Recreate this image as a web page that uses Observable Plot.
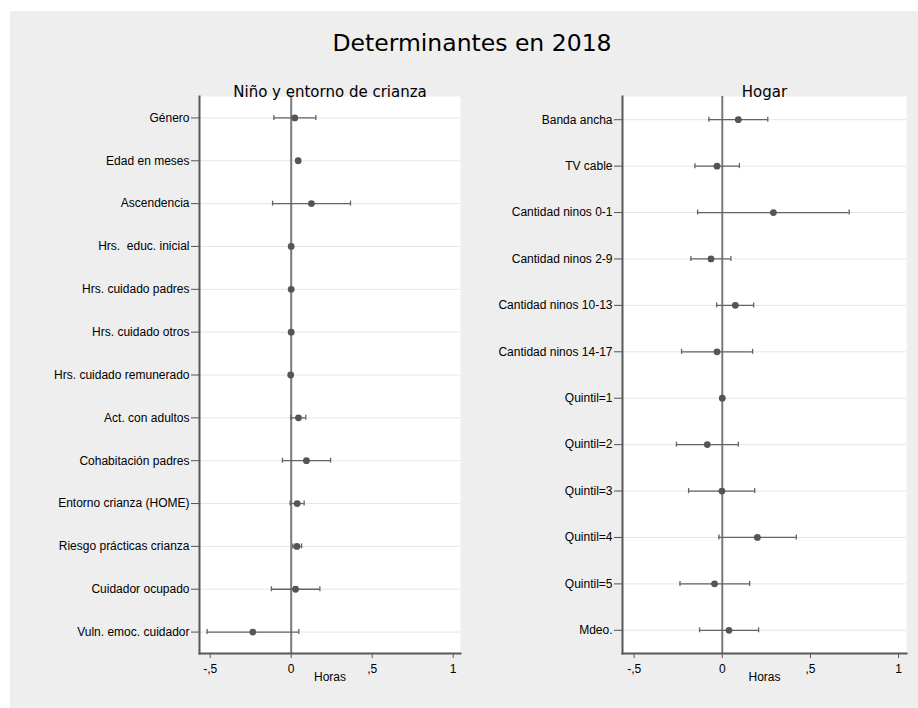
<!DOCTYPE html>
<html><head><meta charset="utf-8">
<script src="https://cdn.jsdelivr.net/npm/d3@7"></script>
<script src="https://cdn.jsdelivr.net/npm/@observablehq/plot@0.6"></script>
<style>
body{margin:0;background:#fff;}
#wrap{position:relative;width:918px;height:708px;overflow:hidden;font-family:"DejaVu Sans",sans-serif;}
#bg{position:absolute;left:10px;top:11px;right:0;bottom:0;background:#eeeeee;}
#title{position:absolute;left:0;width:944px;top:32px;text-align:center;font-size:23.5px;line-height:23.5px;color:#000;white-space:nowrap;}
.panel{position:absolute;top:0;}
svg text{white-space:pre;}
</style></head><body>
<div id="wrap"><div id="bg"></div><div id="title">Determinantes en 2018</div><div id="p1" class="panel" style="left:0"></div><div id="p2" class="panel" style="left:470px"></div></div>
<script>
// ---- data ----
const leftTitle = "Niño y entorno de crianza";
const leftCats = ["Género","Edad en meses","Ascendencia","Hrs.  educ. inicial","Hrs. cuidado padres","Hrs. cuidado otros","Hrs. cuidado remunerado","Act. con adultos","Cohabitación padres","Entorno crianza (HOME)","Riesgo prácticas crianza","Cuidador ocupado","Vuln. emoc. cuidador"];
const leftCoef = [0.022, 0.043, 0.125, 0.000, 0.000, 0.000, -0.003, 0.045, 0.094, 0.037, 0.035, 0.027, -0.237];
const leftLo   = [-0.107, 0.041, -0.115, -0.001, -0.001, -0.001, -0.004, -0.002, -0.054, -0.006, 0.010, -0.122, -0.519];
const leftHi   = [0.152, 0.045, 0.366, 0.001, 0.001, 0.001, -0.002, 0.090, 0.243, 0.080, 0.064, 0.177, 0.047];

const rightTitle = "Hogar";
const rightCats = ["Banda ancha","TV cable","Cantidad ninos 0-1","Cantidad ninos 2-9","Cantidad ninos 10-13","Cantidad ninos 14-17","Quintil=1","Quintil=2","Quintil=3","Quintil=4","Quintil=5","Mdeo."];
const rightCoef = [0.091, -0.030, 0.290, -0.064, 0.074, -0.030, 0.000, -0.085, -0.002, 0.199, -0.044, 0.038];
const rightLo   = [-0.076, -0.155, -0.140, -0.178, -0.032, -0.231, 0.000, -0.260, -0.191, -0.019, -0.240, -0.129];
const rightHi   = [0.258, 0.097, 0.720, 0.049, 0.178, 0.172, 0.000, 0.091, 0.184, 0.420, 0.155, 0.206];

const xTicks = [-0.5, 0, 0.5, 1];
const xTickLabels = ["-,5", "0", ",5", "1"];
const xLabel = "Horas";
const xDomain = [-0.566, 1.045];

const labelFont = '"Liberation Sans", Arial, sans-serif';

function panel({cats, coef, lo, hi, title, width, marginLeft, marginRight}) {
  const height = 708, marginTop = 96, marginBottom = 55;
  const rows = cats.map((c, i) => ({cat: c, b: coef[i], lo: lo[i], hi: hi[i]}));
  const ci = rows.filter(d => d.hi > d.lo);
  const bw = (height - marginTop - marginBottom) / cats.length;
  const capInset = (bw - 5) / 2;
  const ebStyle = {stroke: "#636363", strokeWidth: 1.3};
  return Plot.plot({
    width, height, marginTop, marginBottom, marginLeft, marginRight,
    style: {background: "transparent", fontFamily: labelFont, fontSize: "12px", color: "#000", overflow: "visible"},
    x: {domain: xDomain},
    y: {domain: cats, type: "band", padding: 0, round: false},
    marks: [
      Plot.frame({fill: "white", stroke: "none"}),
      Plot.gridY({stroke: "#e6e6e6", strokeOpacity: 1}),
      Plot.ruleX([0], {stroke: "#7a7a7a", strokeWidth: 2}),
      Plot.ruleY(ci, {y: "cat", x1: "lo", x2: "hi", ...ebStyle}),
      Plot.tickX(ci, {x: "lo", y: "cat", insetTop: capInset, insetBottom: capInset, ...ebStyle}),
      Plot.tickX(ci, {x: "hi", y: "cat", insetTop: capInset, insetBottom: capInset, ...ebStyle}),
      Plot.dot(rows, {x: "b", y: "cat", r: 3.4, fill: "#555", stroke: "none"}),
      Plot.frame({anchor: "left", stroke: "#595959", strokeWidth: 2}),
      Plot.frame({anchor: "bottom", stroke: "#595959", strokeWidth: 2}),
      Plot.axisY({tickSize: 8, tickPadding: 2, stroke: "#555", fill: "#000", fontSize: 12, label: null}),
      Plot.axisX({ticks: xTicks, tickFormat: d => xTickLabels[xTicks.indexOf(d)], tickSize: 5, tickPadding: 6, stroke: "#555", fill: "#000", fontSize: 12, label: null}),
      Plot.text([title], {text: d => d, frameAnchor: "top", dy: -10, fontSize: 15, fontFamily: '"DejaVu Sans", sans-serif', fill: "#000"}),
      Plot.text([xLabel], {text: d => d, frameAnchor: "bottom", dy: 27.2, fontSize: 12, fill: "#000"})
    ]
  });
}

document.getElementById("p1").append(panel({cats: leftCats, coef: leftCoef, lo: leftLo, hi: leftHi, title: leftTitle, width: 470, marginLeft: 199, marginRight: 10}));
document.getElementById("p2").append(panel({cats: rightCats, coef: rightCoef, lo: rightLo, hi: rightHi, title: rightTitle, width: 448, marginLeft: 152, marginRight: 12}));
</script>
</body></html>
